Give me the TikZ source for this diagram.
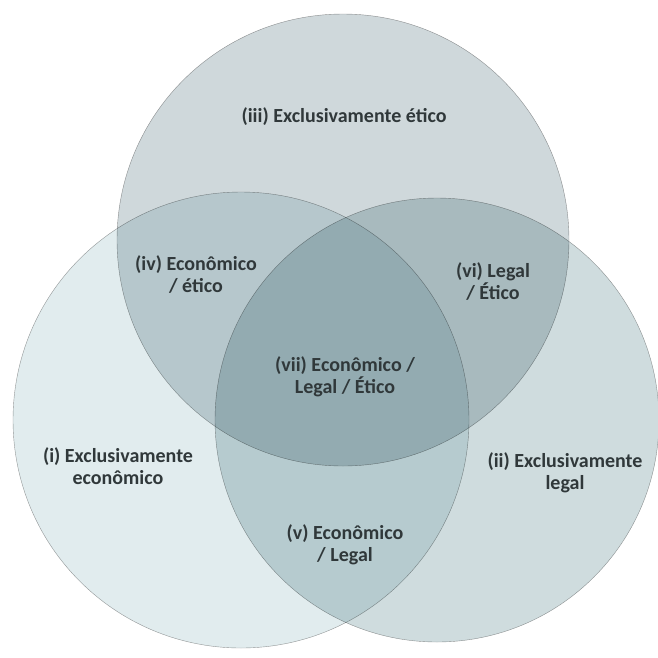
\documentclass[tikz,border=0pt]{standalone}
\usepackage{fontspec}
\setmainfont{Carlito}
\usepackage{tikz}

\begin{document}
\begin{tikzpicture}
		[x=1pt,y=-1pt,
		%Styles
		set circle/.style={circle,draw=linecolor,fill=#1,blend mode=multiply,inner sep=0pt},
		region text/.style={align=center,text=textcolor,font=\bfseries\fontsize{20}{22}\selectfont}
		]
		
		%Colors
		\colorlet{linecolor}{black!38}
		\definecolor{eticocolor}{RGB}{207,216,219}
		\definecolor{ecocolor}{RGB}{225,236,238}
		\definecolor{legalcolor}{RGB}{207,220,222}
		\definecolor{textcolor}{RGB}{48,56,58}
		
		\useasboundingbox (0,0) rectangle (658,657);
		
		%The graphic
		\node[set circle=eticocolor, minimum size=452pt] (etico) at (343,240) {};
		\node[set circle=ecocolor, minimum size=456pt] (eco) at (241,420) {};
		\node[set circle=legalcolor, minimum size=444pt] (legal) at (437,420) {};
		
		\node[region text] (eticonly) at (344,117) {(iii) Exclusivamente ético};
		\node[region text] (ecoonly) at (118,466) {(i) Exclusivamente\\econômico};
		\node[region text] (legonly) at (565,473) {(ii) Exclusivamente\\legal};
		\node[region text] (ecoeti) at (196,275) {(iv) Econômico\\/ ético};
		\node[region text] (legeti) at (493,282) {(vi) Legal\\/ Ético};
		\node[region text] (ecoleg) at (345,545) {(v) Econômico\\/ Legal};
		\node[region text] (all) at (345,377) {(vii) Econômico /\\Legal / Ético};
	\end{tikzpicture}
\end{document}
